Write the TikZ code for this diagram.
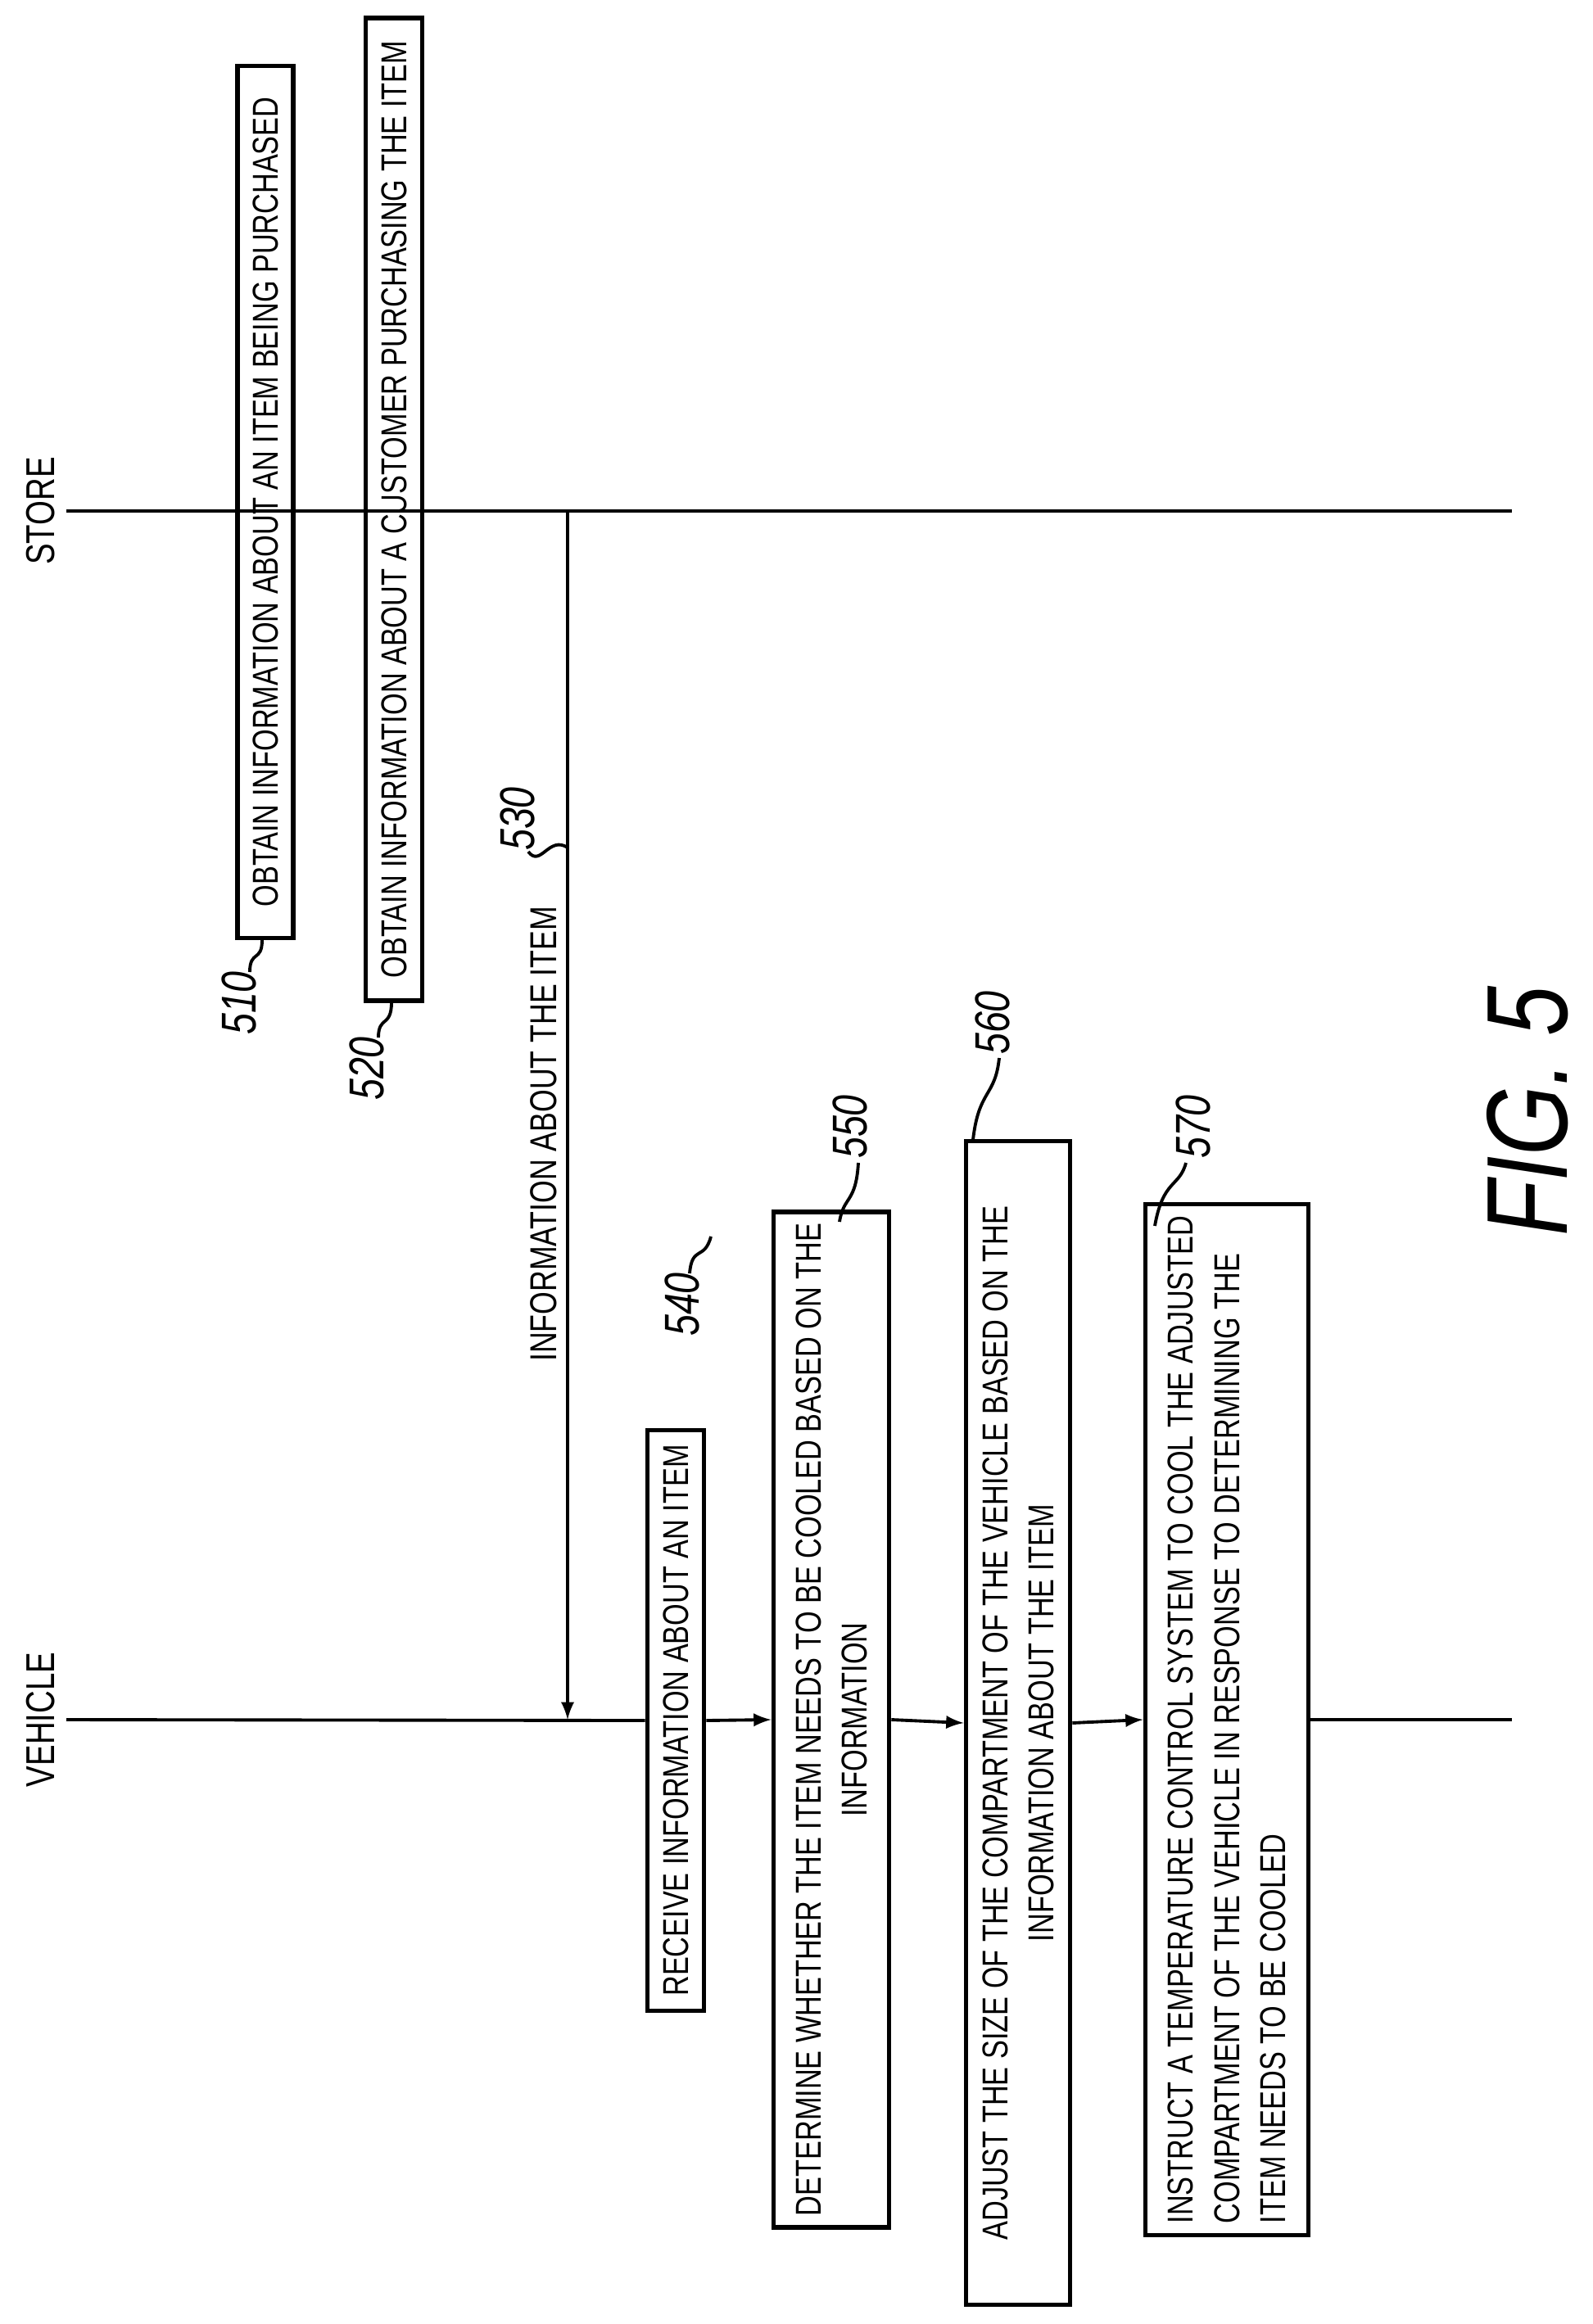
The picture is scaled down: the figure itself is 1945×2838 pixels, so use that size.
\documentclass[tikz,border=0pt]{standalone}
\usepackage{fontspec}
\setmainfont{Liberation Sans}[FakeStretch=0.78]
\begin{document}
\begin{tikzpicture}[x=0.1mm,y=-0.1mm,
  box/.style={draw,line width=1.6pt,rotate=90,inner sep=4pt,font=\fontsize{12.5}{16}\selectfont},
  lab/.style={font=\fontsize{17}{20}\selectfont\itshape,rotate=90},
  ln/.style={line width=1.1pt},
  arr/.style={ln,-latex}]
\useasboundingbox (0,0) rectangle (1945,2838);
\node[rotate=90,font=\fontsize{14}{17}\selectfont] (st) at (50,624) {STORE};
\node[rotate=90,font=\fontsize{14}{17}\selectfont] (ve) at (50,2100) {VEHICLE};
\coordinate (s0) at (81,624); \coordinate (s1) at (1846,624);
\coordinate (v0) at (81,2100); \coordinate (v1) at (1846,2100);
\draw[ln] (s0) -- (s1);
\node[box,minimum width=106.5mm,minimum height=6.8mm] (b510) at (324,613) {OBTAIN INFORMATION ABOUT AN ITEM BEING PURCHASED};
\node[box,minimum width=120mm,minimum height=6.9mm] (b520) at (481,622) {OBTAIN INFORMATION ABOUT A CUSTOMER PURCHASING THE ITEM};
\node[box,minimum width=70.9mm,minimum height=6.9mm] (b540) at (825,2101) {RECEIVE INFORMATION ABOUT AN ITEM};
\node[box,minimum width=119.5mm,minimum height=14.1mm,align=center] (b550) at (1015,2100) {DETERMINE WHETHER THE ITEM NEEDS TO BE COOLED BASED ON THE\\INFORMATION};
\node[box,minimum width=142.1mm,minimum height=12.7mm,align=center] (b560) at (1243,2104) {ADJUST THE SIZE OF THE COMPARTMENT OF THE VEHICLE BASED ON THE\\INFORMATION ABOUT THE ITEM};
\node[box,minimum width=120.1mm,minimum height=19.9mm,align=left] (b570) at (1498,2100) {INSTRUCT A TEMPERATURE CONTROL SYSTEM TO COOL THE ADJUSTED\\COMPARTMENT OF THE VEHICLE IN RESPONSE TO DETERMINING THE\\ITEM NEEDS TO BE COOLED};
\draw[ln] (v0) -- (b540.north);
\draw[arr] (b540.south) -- (b550.north);
\draw[arr] (b550.south) -- (b560.north);
\draw[arr] (b560.south) -- (b570.north);
\draw[ln] (b570.south) -- (v1);
\coordinate (a0) at (693,624); \coordinate (a1) at (693,2100);
\draw[arr] (a0) -- (a1);
\node[rotate=90,font=\fontsize{13}{17}\selectfont] (info) at (664,1385) {INFORMATION ABOUT THE ITEM};
\node[lab] (l530) at (632,1000) {530};
\draw[ln] (645,1040) .. controls (660,1060) and (670,1020) .. (693,1035);
\node[lab] (l510) at (292,1225) {510};
\draw[ln] (305,1187) .. controls (305,1160) and (320,1175) .. (320,1148);
\node[lab] (l520) at (448,1305) {520};
\draw[ln] (462,1267) .. controls (462,1240) and (478,1255) .. (478,1224);
\node[lab] (l540) at (833,1593) {540};
\draw[ln] (842,1555) .. controls (845,1520) and (860,1540) .. (868,1510);
\node[lab] (l550) at (1038,1376) {550};
\draw[ln] (1025,1492) .. controls (1030,1460) and (1045,1470) .. (1048,1420);
\node[lab] (l560) at (1212,1249) {560};
\draw[ln] (1188,1392) .. controls (1195,1330) and (1215,1340) .. (1220,1292);
\node[lab] (l570) at (1457,1376) {570};
\draw[ln] (1410,1497) .. controls (1420,1440) and (1440,1450) .. (1448,1420);
\node[rotate=90,font=\fontsize{40}{44}\selectfont\itshape] (fig) at (1865,1357) {FIG. 5};
\end{tikzpicture}
\end{document}
